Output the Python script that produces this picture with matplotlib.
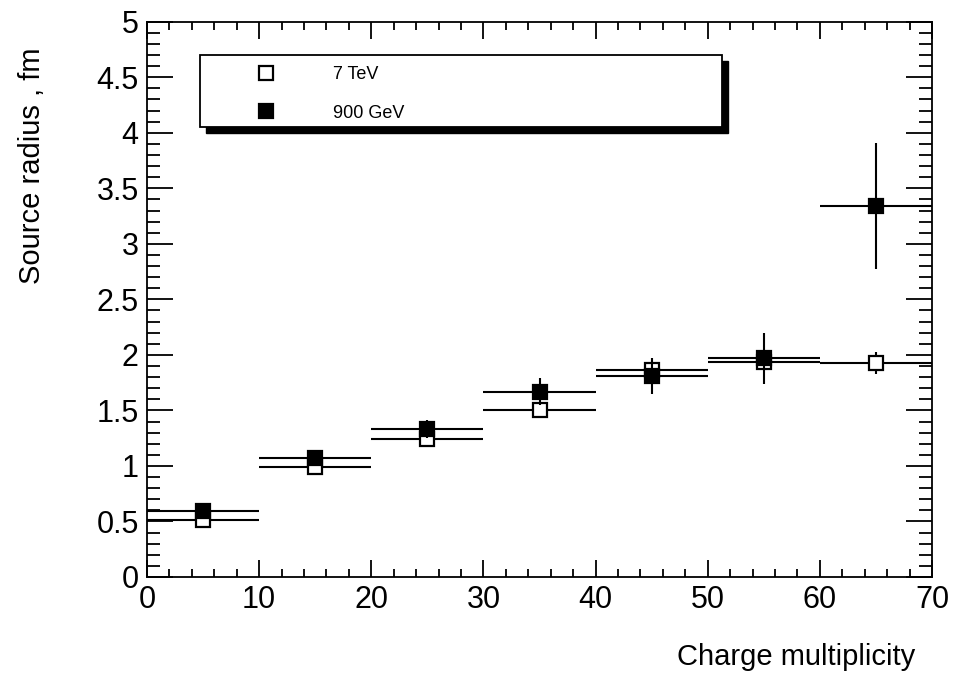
import matplotlib
matplotlib.use("Agg")
import matplotlib.pyplot as plt
from matplotlib.patches import Rectangle
from matplotlib.lines import Line2D
from matplotlib.ticker import MultipleLocator

plt.rcParams['font.family'] = ['Liberation Sans', 'DejaVu Sans']

# charge multiplicity bins (centres, full width 10)
mult = [5, 15, 25, 35, 45, 55, 65]
bin_width = 10

# source radius, fm
r_7tev = [0.51, 0.99, 1.24, 1.50, 1.86, 1.94, 1.93]
err_7tev = [0.03, 0.03, 0.03, 0.04, 0.06, 0.06, 0.10]
r_900gev = [0.59, 1.07, 1.33, 1.67, 1.81, 1.97, 3.34]
err_900gev = [0.07, 0.07, 0.08, 0.12, 0.16, 0.23, 0.57]

labels = ["7 TeV", "900 GeV"]

fig = plt.figure(figsize=(9.55, 6.77), dpi=100)
ax = fig.add_axes([147 / 955, 1 - 577 / 677, 785 / 955, 555.3 / 677])

xerr = [bin_width / 2] * len(mult)
ax.errorbar(mult, r_7tev, xerr=xerr, yerr=err_7tev, fmt='s', ms=10,
            mfc='white', mec='black', mew=1.6, ecolor='black',
            elinewidth=1.5, capsize=0, zorder=3)
ax.errorbar(mult, r_900gev, xerr=xerr, yerr=err_900gev, fmt='s', ms=10,
            mfc='black', mec='black', mew=1.6, ecolor='black',
            elinewidth=1.5, capsize=0, zorder=4)

ax.set_xlim(0, 70)
ax.set_ylim(0, 5)
ax.xaxis.set_major_locator(MultipleLocator(10))
ax.xaxis.set_minor_locator(MultipleLocator(2))
ax.yaxis.set_major_locator(MultipleLocator(0.5))
ax.yaxis.set_minor_locator(MultipleLocator(0.1))
ax.yaxis.set_major_formatter(plt.FuncFormatter(lambda v, p: f"{v:g}"))

ax.tick_params(which='both', direction='in', top=True, right=True,
               labelsize=22, width=1.3, colors='black')
ax.tick_params(axis='y', which='major', length=19, pad=6)
ax.tick_params(axis='y', which='minor', length=9.5)
ax.tick_params(axis='x', which='major', length=12, pad=6)
ax.tick_params(axis='x', which='minor', length=6)
for s in ax.spines.values():
    s.set_linewidth(1.3)

ax.set_xlabel("Charge multiplicity", fontsize=21, loc='right')
ax.xaxis.set_label_coords((915 - 147) / 785, (577 - 643) / 555.3)
ax.set_ylabel("Source radius , fm", fontsize=21, loc='top')
ax.yaxis.set_label_coords((46 - 147) / 785, (577 - 48) / 555.3)

# legend box with hard black shadow (ROOT style)
bx0, bx1 = (200 - 147) / 785, (722 - 147) / 785
by0, by1 = (577 - 127) / 555.3, (577 - 55) / 555.3
dx, dy = 6 / 785, 6 / 555.3
ax.add_patch(Rectangle((bx0 + dx, by0 - dy), bx1 - bx0, by1 - by0,
                       transform=ax.transAxes, facecolor='black',
                       edgecolor='black', zorder=5))
ax.add_patch(Rectangle((bx0, by0), bx1 - bx0, by1 - by0,
                       transform=ax.transAxes, facecolor='white',
                       edgecolor='black', lw=1.3, zorder=6))

handles = [Line2D([], [], ls='none', marker='s', ms=10, mfc='white', mec='black', mew=1.6),
           Line2D([], [], ls='none', marker='s', ms=10, mfc='black', mec='black', mew=1.6)]
leg = ax.legend(handles, labels, loc='upper left',
                bbox_to_anchor=((230 - 147) / 785, (577 - 66) / 555.3),
                frameon=False, fontsize=13, handlelength=4, handletextpad=1.72,
                labelspacing=1.2, borderpad=0, borderaxespad=0)
leg.set_zorder(7)

fig.savefig("out.png", dpi=100)
